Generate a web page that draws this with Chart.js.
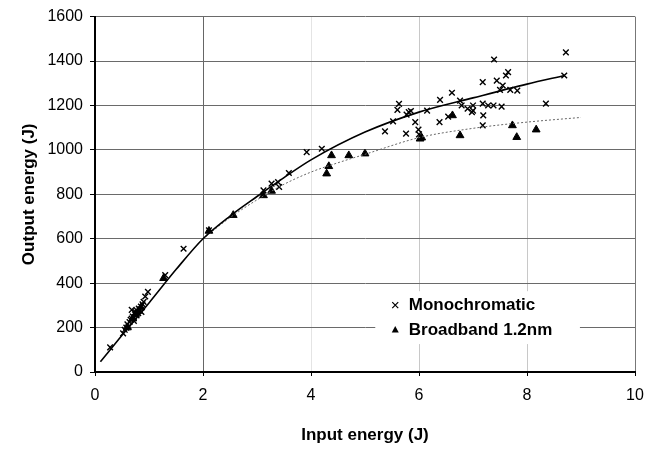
<!DOCTYPE html>
<html>
<head>
<meta charset="utf-8">
<script src="https://cdn.jsdelivr.net/npm/chart.js@4/dist/chart.umd.min.js"></script>
<style>
  html, body { margin: 0; padding: 0; background: #fff; }
  canvas { display: block; }
</style>
</head>
<body>
<canvas id="energyChart" width="654" height="451"></canvas>
<script>
// Monochromatic shots (x = input J, y = output J)
const monoX = [0.28, 0.52, 0.55, 0.58, 0.6, 0.62, 0.64, 0.66, 0.68, 0.68, 0.7, 0.72, 0.72, 0.74, 0.75, 0.77, 0.78, 0.8, 0.81, 0.83, 0.85, 0.86, 0.88, 0.9, 0.93, 0.98, 1.3,
  1.64, 2.11, 3.12, 3.27, 3.39, 3.41, 3.59, 3.92, 4.2,
  5.37, 5.52, 5.63, 5.6, 5.76, 5.77, 5.81, 5.85, 5.93, 5.99, 6.0, 6.15, 6.38, 6.39, 6.54, 6.61, 6.76, 6.79, 6.9, 6.98, 7.0, 7.0,
  7.18, 7.19, 7.18, 7.18, 7.28, 7.38, 7.39, 7.44, 7.53, 7.5, 7.55, 7.61, 7.65, 7.69, 7.82, 8.35, 8.69, 8.72];
const monoY = [111, 174, 190, 200, 215, 205, 225, 235, 240, 280, 250, 245, 230, 260, 270, 255, 275, 265, 285, 280, 295, 270, 305, 316, 340, 361, 436,
  555, 638, 818, 848, 855, 833, 896, 990, 1005,
  1083, 1128, 1207, 1180, 1073, 1159, 1170, 1175, 1125, 1091, 1070, 1177, 1125, 1225, 1150, 1257, 1222, 1200, 1185, 1170, 1200, 1177,
  1208, 1155, 1110, 1305, 1200, 1200, 1407, 1312, 1195, 1270, 1290, 1335, 1350, 1270, 1267, 1208, 1335, 1439];

// Broadband 1.2nm shots
const broadX = [0.6, 0.7, 0.75, 0.8, 0.85, 1.27, 2.11, 2.56, 3.12, 3.27, 4.29, 4.33, 4.38, 4.7, 5.0, 6.02, 6.05, 6.62, 6.76, 7.73, 7.81, 8.17];
const broadY = [200, 240, 260, 275, 290, 422, 635, 706, 795, 815, 893, 926, 975, 975, 983, 1050, 1055, 1155, 1065, 1110, 1057, 1091];

// trend curves
const monoFitX = [0.1, 0.5, 1, 1.5, 2, 2.5, 3, 3.5, 4, 5, 6, 7, 8, 8.7];
const monoFitY = [46, 165, 311, 461, 600, 702, 790, 875, 955, 1080, 1170, 1234, 1296, 1335];
const broadFitX = [2.0, 2.5, 3, 3.5, 4, 4.5, 5, 6, 7, 8, 9];
const broadFitY = [600, 695, 775, 845, 900, 942, 980, 1055, 1097, 1125, 1146];

const xTicks = [0, 2, 4, 6, 8, 10];
const yTicks = [0, 200, 400, 600, 800, 1000, 1200, 1400, 1600];

const toPoints = (xs, ys) => xs.map((x, i) => ({ x: x, y: ys[i] }));

// legend sits inside the plot, over the 200 J gridline
const insideLegend = {
  id: 'insideLegend',
  afterDatasetsDraw(chart) {
    const { ctx, chartArea } = chart;
    const w = chartArea.right - chartArea.left;
    const h = chartArea.bottom - chartArea.top;
    const boxL = chartArea.left + 0.519 * w;
    const boxR = chartArea.left + 0.898 * w;
    const row1 = chartArea.top + 0.812 * h;
    const row2 = chartArea.top + 0.882 * h;
    const markX = chartArea.left + 0.556 * w;
    const textX = chartArea.left + 0.581 * w;

    ctx.save();
    ctx.fillStyle = '#fff';
    ctx.fillRect(boxL, row1 - 14, boxR - boxL, row2 - row1 + 28);

    ctx.strokeStyle = '#000';
    ctx.lineWidth = 1.2;
    ctx.beginPath();
    ctx.moveTo(markX - 3, row1 - 3); ctx.lineTo(markX + 3, row1 + 3);
    ctx.moveTo(markX + 3, row1 - 3); ctx.lineTo(markX - 3, row1 + 3);
    ctx.stroke();

    ctx.fillStyle = '#000';
    ctx.beginPath();
    ctx.moveTo(markX, row2 - 4);
    ctx.lineTo(markX + 3.5, row2 + 2.5);
    ctx.lineTo(markX - 3.5, row2 + 2.5);
    ctx.closePath();
    ctx.fill();

    ctx.font = 'bold 17px "Liberation Sans", Arial, sans-serif';
    ctx.textBaseline = 'middle';
    ctx.fillText(chart.data.datasets[0].label, textX, row1);
    ctx.fillText(chart.data.datasets[1].label, textX, row2);
    ctx.restore();
  }
};

const xGridColor = (ctx) => {
  const v = ctx.tick ? ctx.tick.value : null;
  if (v === 2) return '#666';
  if (v === 6 || v === 8) return '#c8c8c8';
  if (v === 4) return '#e4e4e4';
  if (v === 10) return '#777';
  return 'rgba(0,0,0,0)';
};

new Chart(document.getElementById('energyChart'), {
  type: 'scatter',
  data: {
    datasets: [{
      label: 'Monochromatic',
      data: toPoints(monoX, monoY),
      pointStyle: 'crossRot',
      radius: 4,
      borderColor: '#000',
      backgroundColor: '#000',
      borderWidth: 1.4,
      order: 2
    }, {
      label: 'Broadband 1.2nm',
      data: toPoints(broadX, broadY),
      pointStyle: 'triangle',
      radius: 4.5,
      borderColor: '#000',
      backgroundColor: '#000',
      borderWidth: 1,
      order: 2
    }, {
      label: 'mono fit',
      type: 'line',
      data: toPoints(monoFitX, monoFitY),
      borderColor: '#000',
      borderWidth: 1.6,
      pointRadius: 0,
      cubicInterpolationMode: 'monotone',
      fill: false,
      order: 1
    }, {
      label: 'broad fit',
      type: 'line',
      data: toPoints(broadFitX, broadFitY),
      borderColor: '#666',
      borderWidth: 1,
      borderDash: [2, 2],
      pointRadius: 0,
      cubicInterpolationMode: 'monotone',
      fill: false,
      order: 1
    }]
  },
  options: {
    responsive: false,
    animation: false,
    layout: {
      padding: { top: 16, right: 19, left: 15, bottom: 0 }
    },
    plugins: {
      legend: { display: false },
      tooltip: { enabled: false }
    },
    scales: {
      x: {
        type: 'linear',
        min: 0,
        max: 10,
        afterBuildTicks: (scale) => { scale.ticks = xTicks.map(v => ({ value: v })); },
        afterFit: (scale) => { scale.height = 79; },
        border: { color: '#000', width: 2 },
        grid: { color: xGridColor, lineWidth: 1, tickLength: 4, tickColor: '#000', drawTicks: true },
        ticks: {
          color: '#000',
          padding: 10,
          callback: (v) => String(v),
          font: { family: '"Liberation Sans", Arial, sans-serif', size: 16 }
        },
        title: {
          display: true,
          text: 'Input energy (J)',
          color: '#000',
          padding: { top: 4, bottom: 5 },
          font: { family: '"Liberation Sans", Arial, sans-serif', size: 17, weight: 'bold' }
        }
      },
      y: {
        min: 0,
        max: 1600,
        afterBuildTicks: (scale) => { scale.ticks = yTicks.map(v => ({ value: v })); },
        afterFit: (scale) => { scale.width = 80; },
        border: { color: '#000', width: 2 },
        grid: {
          color: (ctx) => (ctx.tick && ctx.tick.value === 0 ? 'rgba(0,0,0,0)' : '#6a6a6a'),
          lineWidth: 1,
          tickLength: 5,
          tickColor: '#000'
        },
        ticks: {
          color: '#000',
          padding: 7,
          callback: (v) => String(v),
          font: { family: '"Liberation Sans", Arial, sans-serif', size: 16 }
        },
        title: {
          display: true,
          text: 'Output energy (J)',
          color: '#000',
          padding: { top: 4, bottom: 0 },
          font: { family: '"Liberation Sans", Arial, sans-serif', size: 17, weight: 'bold' }
        }
      }
    }
  },
  plugins: [insideLegend]
});
</script>
</body>
</html>
